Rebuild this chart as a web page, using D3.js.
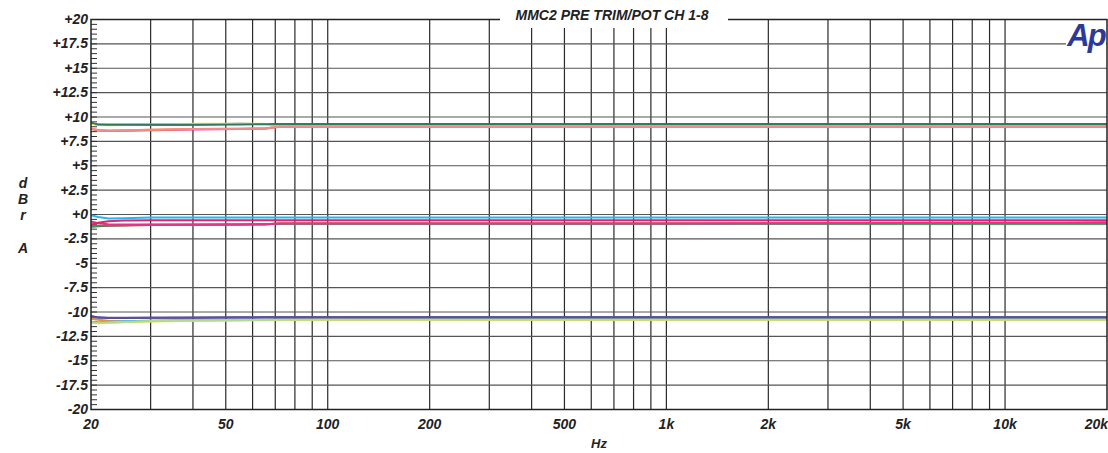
<!DOCTYPE html>
<html>
<head>
<meta charset="utf-8">
<script src="https://cdn.jsdelivr.net/npm/d3@7"></script>
<style>
  body { margin: 0; background: #fff; }
  svg text { font-family: "Liberation Sans", Arial, sans-serif; font-weight: bold; font-style: italic; fill: #222; }
</style>
</head>
<body>
<script>
// sweep points (Hz)
var freqs = [20, 21, 22.5, 25, 30, 40, 55, 65, 72, 100, 1000, 15000, 20000];

// level in dBrA per trace, three trim/pot settings
var g1Blue    = [9.35, 9.2, 9.2, 9.2, 9.2, 9.22, 9.3, 9.28, 9.26, 9.26, 9.26, 9.26, 9.26];
var g1Magenta = [8.78, 8.62, 8.56, 8.58, 8.64, 8.72, 8.78, 8.8, 9.0, 9.0, 9.0, 9.0, 9.0];
var g1Orange  = [8.8, 8.64, 8.6, 8.62, 8.68, 8.76, 8.8, 8.82, 9.02, 9.02, 9.02, 9.02, 9.02];
var g1Yellow  = [9.3, 9.18, 9.16, 9.18, 9.22, 9.3, 9.3, 9.3, 9.12, 9.12, 9.12, 9.12, 9.12];
var g1Salmon  = [8.8, 8.66, 8.62, 8.64, 8.7, 8.76, 8.8, 8.82, 9.0, 9.0, 9.0, 9.0, 9.0];
var g1Green   = [9.42, 9.22, 9.2, 9.2, 9.2, 9.2, 9.24, 9.26, 9.26, 9.26, 9.26, 9.26, 9.26];

var g2Red     = [-1.25, -1.2, -1.15, -1.12, -1.08, -1.05, -1.02, -1.0, -0.92, -0.92, -0.92, -0.92, -0.92];
var g2Green   = [-1.2, -1.15, -1.12, -1.1, -1.06, -1.04, -1.02, -1.0, -0.94, -0.94, -0.94, -0.94, -0.94];
var g2Pink    = [-0.72, -0.9, -1.0, -1.02, -1.02, -1.02, -1.02, -1.02, -0.92, -0.92, -0.92, -0.84, -0.8];
var g2Crimson = [-1.05, -0.85, -0.7, -0.62, -0.6, -0.6, -0.6, -0.6, -0.6, -0.6, -0.6, -0.6, -0.6];
var g2Cyan    = [-0.08, -0.25, -0.4, -0.38, -0.32, -0.3, -0.3, -0.3, -0.3, -0.3, -0.3, -0.3, -0.3];

var g3Orange  = [-10.7, -10.8, -10.9, -10.95, -10.9, -10.85, -10.82, -10.8, -10.78, -10.76, -10.76, -10.76, -10.76];
var g3Cyan    = [-11.0, -11.05, -11.0, -10.95, -10.9, -10.85, -10.8, -10.8, -10.78, -10.76, -10.74, -10.74, -10.74];
var g3Yellow  = [-11.1, -11.15, -11.12, -11.05, -10.98, -10.9, -10.86, -10.84, -10.82, -10.8, -10.8, -10.8, -10.8];
var g3Lime    = [-11.08, -11.12, -11.08, -11.02, -10.95, -10.88, -10.84, -10.82, -10.8, -10.78, -10.78, -10.78, -10.78];
var g3Blue    = [-10.4, -10.55, -10.62, -10.62, -10.6, -10.58, -10.56, -10.55, -10.55, -10.55, -10.55, -10.55, -10.55];
var g3Purple  = [-10.5, -10.58, -10.6, -10.6, -10.58, -10.56, -10.55, -10.55, -10.55, -10.55, -10.55, -10.55, -10.55];

var yTicks = [20, 17.5, 15, 12.5, 10, 7.5, 5, 2.5, 0, -2.5, -5, -7.5, -10, -12.5, -15, -17.5, -20];
var yTickLabels = ["+20", "+17.5", "+15", "+12.5", "+10", "+7.5", "+5", "+2.5", "+0", "-2.5", "-5", "-7.5", "-10", "-12.5", "-15", "-17.5", "-20"];
var xTicks = [20, 50, 100, 200, 500, 1000, 2000, 5000, 10000, 20000];
var xTickLabels = ["20", "50", "100", "200", "500", "1k", "2k", "5k", "10k", "20k"];

var traces = [
    {v: g1Blue, c: "#2c44a8"}, {v: g1Magenta, c: "#e8308c"}, {v: g1Orange, c: "#f0a040"},
    {v: g1Yellow, c: "#eee46c"}, {v: g1Salmon, c: "#f08c8c"}, {v: g1Green, c: "#2e7a5c"},
    {v: g2Red, c: "#d83030"}, {v: g2Green, c: "#20a060"}, {v: g2Pink, c: "#e8308c"},
    {v: g2Crimson, c: "#e8206c"}, {v: g2Cyan, c: "#20b8f0"},
    {v: g3Orange, c: "#f09030"}, {v: g3Cyan, c: "#40bcf0"}, {v: g3Yellow, c: "#ece44c"},
    {v: g3Lime, c: "#b4dc88"}, {v: g3Blue, c: "#2840b0"}, {v: g3Purple, c: "#6a4e8a"}
];

var width = 1108, height = 453;
var plotL = 91, plotR = 1107, plotT = 19.5, plotB = 409.5;

var svg = d3.select("body").append("svg")
    .attr("width", width)
    .attr("height", height);

var x = d3.scaleLog().domain([20, 20000]).range([plotL, plotR]);
var y = d3.scaleLinear().domain([-20, 20]).range([plotB, plotT]);

// vertical grid: 20..100 by 10, then decades
var gridF = [];
[10, 100, 1000, 10000].forEach(function (dec) {
    for (var k = 1; k <= 9; k++) {
        var f = k * dec;
        if (f > 20 && f < 20000) gridF.push(f);
    }
});

svg.append("g").selectAll("line").data(gridF).enter().append("line")
    .attr("x1", function (d) { return x(d); })
    .attr("x2", function (d) { return x(d); })
    .attr("y1", plotT).attr("y2", plotB)
    .attr("stroke", "#2a2a2a").attr("stroke-width", 1.2);

svg.append("g").selectAll("line").data(yTicks.filter(function (d) { return d > -20 && d < 20; }))
    .enter().append("line")
    .attr("x1", plotL).attr("x2", plotR)
    .attr("y1", function (d) { return y(d); })
    .attr("y2", function (d) { return y(d); })
    .attr("stroke", "#555").attr("stroke-width", 1.2);

// minor ticks every 0.5 dB
svg.append("g").selectAll("line").data(d3.range(-20, 20.01, 0.5))
    .enter().append("line")
    .attr("x1", plotL).attr("x2", plotL + 6)
    .attr("y1", function (d) { return y(d); })
    .attr("y2", function (d) { return y(d); })
    .attr("stroke", "#333").attr("stroke-width", 1);

// traces
var line = d3.line()
    .x(function (d, i) { return x(freqs[i]); })
    .y(function (d) { return y(d); });

svg.append("g").selectAll("path").data(traces).enter().append("path")
    .attr("d", function (d) { return line(d.v); })
    .attr("fill", "none")
    .attr("stroke", function (d) { return d.c; })
    .attr("stroke-width", 2);

// frame
svg.append("rect")
    .attr("x", plotL).attr("y", plotT)
    .attr("width", plotR - plotL).attr("height", plotB - plotT)
    .attr("fill", "none").attr("stroke", "#222").attr("stroke-width", 1.5);

// title box breaks the top frame
svg.append("rect").attr("x", 500).attr("y", 0).attr("width", 228).attr("height", 28).attr("fill", "#fff");
svg.append("text")
    .attr("x", 612).attr("y", 20)
    .attr("text-anchor", "middle")
    .style("font-size", "14px")
    .text("MMC2 PRE TRIM/POT CH 1-8");

// Ap logo
svg.append("rect").attr("x", 1066).attr("y", 22).attr("width", 40).attr("height", 30).attr("fill", "#fff");
svg.append("text")
    .attr("x", 1086).attr("y", 46)
    .attr("text-anchor", "middle")
    .style("font-size", "31px")
    .style("fill", "#2b3a98")
    .style("letter-spacing", "-2px")
    .text("Ap");

// y tick labels
svg.append("g").selectAll("text").data(yTicks).enter().append("text")
    .attr("x", 88)
    .attr("y", function (d) { return y(d) + 4.5; })
    .attr("text-anchor", "end")
    .style("font-size", "14px")
    .text(function (d, i) { return yTickLabels[i]; });

// x tick labels
svg.append("g").selectAll("text").data(xTicks).enter().append("text")
    .attr("x", function (d, i) { return i === xTicks.length - 1 ? 1108 : x(d); })
    .attr("y", 429)
    .attr("text-anchor", function (d, i) { return i === xTicks.length - 1 ? "end" : "middle"; })
    .style("font-size", "14px")
    .text(function (d, i) { return xTickLabels[i]; });

svg.append("text")
    .attr("x", 599).attr("y", 448)
    .attr("text-anchor", "middle")
    .style("font-size", "13px")
    .text("Hz");

// stacked y axis title
var yTitle = [["d", 188], ["B", 204], ["r", 220], ["A", 253]];
svg.append("g").selectAll("text").data(yTitle).enter().append("text")
    .attr("x", 23)
    .attr("y", function (d) { return d[1]; })
    .attr("text-anchor", "middle")
    .style("font-size", "14px")
    .text(function (d) { return d[0]; });
</script>
</body>
</html>
